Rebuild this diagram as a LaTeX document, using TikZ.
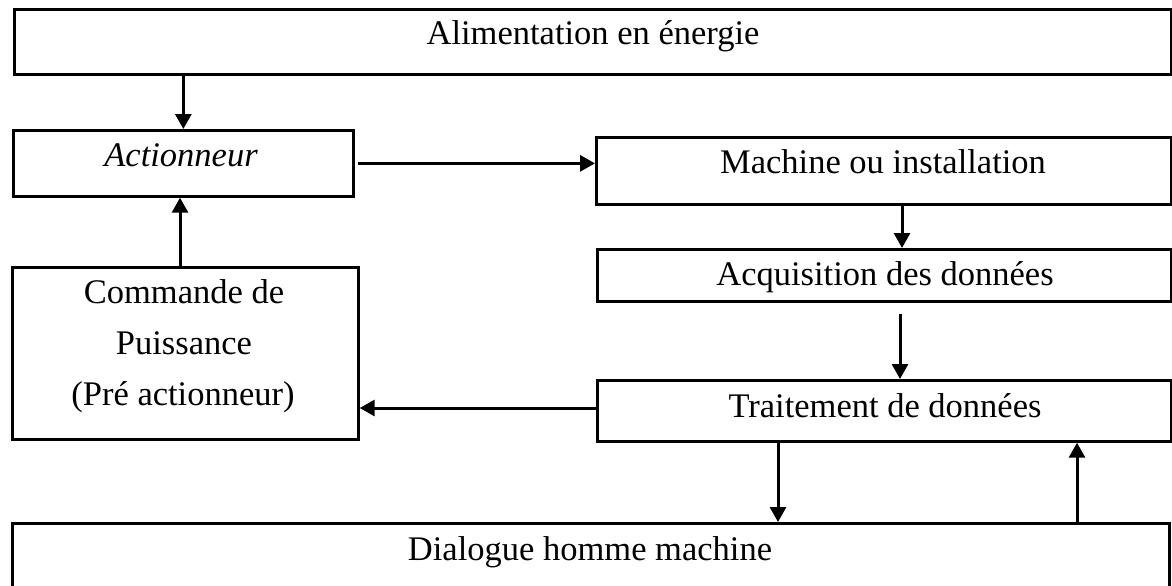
\documentclass[tikz,border=0pt]{standalone}
\usepackage{fontspec}
\setmainfont{Liberation Serif}
\usetikzlibrary{arrows.meta}
\begin{document}
\begin{tikzpicture}[x=1pt,y=-1pt,
  box/.style={draw, line width=2.7pt, inner sep=0pt, anchor=north west},
  lbl/.style={anchor=base, inner sep=0pt, font=\fontsize{34.5}{40}\selectfont},
  conn/.style={line width=3pt, -{Triangle[length=15pt,width=16pt]}}]
\useasboundingbox (0,0) rectangle (1172,586);
\clip (0,0) rectangle (1172,586);
% boxes
\node[box, minimum width=1157pt, minimum height=65pt] (alim) at (13,8) {};
\node[box, minimum width=340pt, minimum height=66pt] (act) at (12,129) {};
\node[box, minimum width=346pt, minimum height=172pt] (cmd) at (11,266) {};
\node[box, minimum width=575pt, minimum height=67pt] (mach) at (595,136) {};
\node[box, minimum width=574pt, minimum height=52pt] (acq) at (596,248) {};
\node[box, minimum width=574pt, minimum height=61pt] (trait) at (596,379) {};
\node[box, minimum width=1157pt, minimum height=110pt] (dial) at (11,522) {};
% texts
\node[lbl] (talim) at (593,45) {Alimentation en énergie};
\node[lbl] (tact) at (181,166) {\itshape Actionneur};
\node[lbl] (tcmd1) at (184,303) {Commande de};
\node[lbl] (tcmd2) at (184,354) {Puissance};
\node[lbl] (tcmd3) at (183,405) {(Pré actionneur)};
\node[lbl] (tmach) at (883,173) {Machine ou installation};
\node[lbl] (tacq) at (885,285) {Acquisition des données};
\node[lbl] (ttrait) at (885,417) {Traitement de données};
\node[lbl] (tdial) at (590,560) {Dialogue homme machine};
% helper coordinates
\coordinate (xa) at (180,0);
\coordinate (xm) at (902,0);
\coordinate (qs) at (900,314);
\coordinate (yt) at (0,408);
\coordinate (xd) at (778,0);
\coordinate (xu) at (1077,0);
% connectors
\draw[conn] (alim.south -| act.north) -- (act.north);
\draw[conn] (cmd.north -| xa) -- (act.south -| xa);
\draw[conn] ([xshift=3pt]act.east) -- (act.east -| mach.west);
\draw[conn] (mach.south -| xm) -- (acq.north -| xm);
\draw[conn] (qs) -- (qs |- trait.north);
\draw[conn] (trait.west |- yt) -- (cmd.east |- yt);
\draw[conn] (trait.south -| xd) -- (dial.north -| xd);
\draw[conn] (dial.north -| xu) -- (trait.south -| xu);
\end{tikzpicture}
\end{document}
